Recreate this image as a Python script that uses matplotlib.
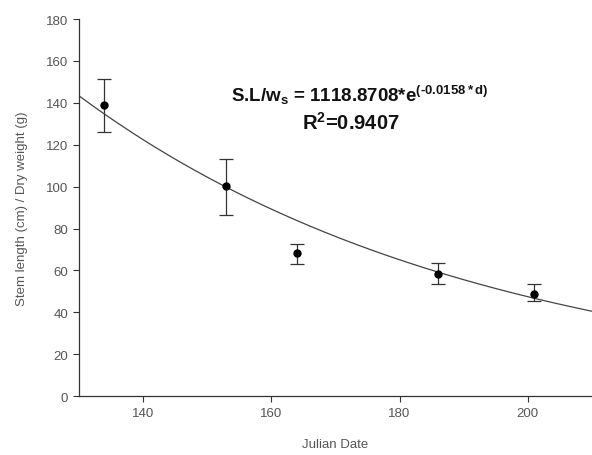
import numpy as np
import matplotlib
matplotlib.use("Agg")
import matplotlib.pyplot as plt

plt.rcParams['font.family'] = ['Liberation Sans', 'DejaVu Sans']
plt.rcParams['mathtext.fontset'] = 'custom'
plt.rcParams['mathtext.rm'] = 'Liberation Sans:bold'
plt.rcParams['mathtext.it'] = 'Liberation Sans:bold'
plt.rcParams['mathtext.bf'] = 'Liberation Sans:bold'

# data
julian_day = [134, 153, 164, 186, 201]
ratio = [138.8, 100.2, 68.2, 58.5, 49.0]
err_up = [12.5, 13.0, 4.5, 5.0, 4.5]
err_down = [12.5, 13.5, 5.0, 5.0, 3.5]

# fitted model printed on the chart
fit_a = 1118.8708
fit_b = -0.0158
fit_r2 = 0.9407

grey = '#555555'

fig = plt.figure(figsize=(5.92, 4.56), dpi=100)
ax = fig.add_axes([0.133, 0.129, 0.867, 0.827])

d = np.linspace(130, 210, 200)
ax.plot(d, fit_a * np.exp(fit_b * d), color='#444444', lw=0.9)
ax.errorbar(julian_day, ratio, yerr=[err_down, err_up], fmt='o', color='black',
            ms=5, ecolor='#333333', elinewidth=0.9, capsize=5, capthick=0.9)

ax.set_xlim(130, 210)
ax.set_ylim(0, 180)
ax.set_xticks([140, 160, 180, 200])
ax.set_yticks(range(0, 181, 20))
ax.spines['top'].set_visible(False)
ax.spines['right'].set_visible(False)
for s in ['left', 'bottom']:
    ax.spines[s].set_color('#333333')
    ax.spines[s].set_linewidth(0.9)
ax.tick_params(direction='out', length=4, width=0.8, color='#333333',
               labelsize=9.5, labelcolor=grey)
ax.set_xlabel('Julian Date', color=grey, fontsize=9.5, labelpad=14)
ax.set_ylabel('Stem length (cm) / Dry weight (g)', color=grey, fontsize=9.5, labelpad=13)

# hyphen (U+2010) so the exponent shows "-" like the original rather than a long minus
ax.text(0.548, 0.80, "S.L/w$_\\mathrm{s}$ = 1118.8708*e$^{\\mathrm{(\u20100.0158*d)}}$",
        transform=ax.transAxes, ha='center', va='center', fontsize=13.5,
        fontweight='bold', color='#111111')
ax.text(0.531, 0.728, r"R$^\mathrm{2}$=%.4f" % fit_r2, transform=ax.transAxes,
        ha='center', va='center', fontsize=14.5, fontweight='bold', color='#111111')

fig.savefig('out.png', dpi=100)
